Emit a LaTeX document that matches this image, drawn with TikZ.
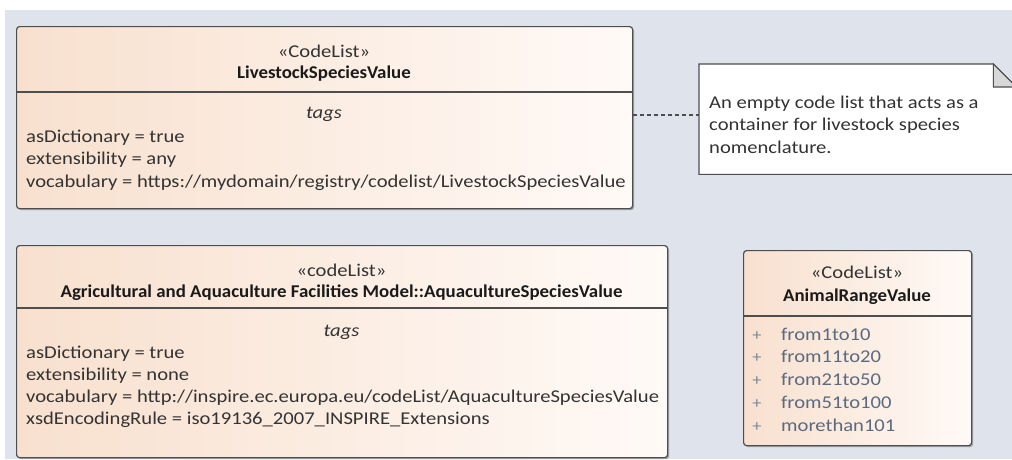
\documentclass[tikz,border=0pt]{standalone}
\usepackage{fontspec}
\usetikzlibrary{shadows}
\setmainfont{Carlito}
\newfontfamily\bodyfont{Carlito}[FakeStretch=1.145]
\newfontfamily\headfont{Carlito}[FakeStretch=1.05]
\definecolor{canvas}{HTML}{DFE3EC}
\definecolor{peach}{HTML}{F8E0CE}
\definecolor{peachlight}{HTML}{FFFAF7}
\definecolor{boxline}{HTML}{4E4E4E}
\definecolor{bodytext}{HTML}{333333}
\definecolor{titletext}{HTML}{1A1A1A}
\definecolor{itemtext}{HTML}{5A6A80}
\definecolor{notefold}{HTML}{D8D8D8}
\definecolor{shadowgray}{HTML}{9A9EA6}
\begin{document}
\begin{tikzpicture}[x=1pt,y=-1pt,
  classbox/.style={draw=boxline, line width=1.2pt, rounded corners=3pt,
    left color=peach, right color=peachlight, inner sep=0pt,
    anchor=north west,
    drop shadow={shadow xshift=1.5pt, shadow yshift=-1.5pt, fill=shadowgray, opacity=1}},
  divider/.style={draw=boxline, line width=1.2pt},
  stereo/.style={font=\bodyfont\fontsize{18}{22}\selectfont, text=bodytext, anchor=base, inner sep=0pt},
  cname/.style={font=\headfont\bfseries\fontsize{18}{22}\selectfont, text=titletext, anchor=base, inner sep=0pt},
  tagshead/.style={font=\bodyfont\itshape\fontsize{18}{22}\selectfont, text=bodytext, anchor=base, inner sep=0pt},
  tagline/.style={font=\bodyfont\fontsize{18}{22}\selectfont, text=bodytext, anchor=base west, inner sep=0pt},
  litmark/.style={font=\bodyfont\fontsize{16}{22}\selectfont, text=itemtext!80, anchor=base, inner sep=0pt},
  literal/.style={font=\bodyfont\fontsize{18}{22}\selectfont, text=itemtext, anchor=base west, inner sep=0pt},
  notetext/.style={font=\bodyfont\fontsize{18}{22}\selectfont, text=bodytext, anchor=base west, inner sep=0pt},
  noteline/.style={draw=boxline, line width=1.1pt, dash pattern=on 4pt off 3pt}]

% page and diagram canvas
\useasboundingbox (0,0) rectangle (1012,459);
\fill[white] (0,0) rectangle (1012,459);
\fill[canvas] (5,10) rectangle (1012,459);

% ---- LivestockSpeciesValue ----
\node[classbox, minimum width=616pt, minimum height=182pt] (live) at (16,26) {};
\draw[divider] (live.west |- 0,92) -- (live.east |- 0,92);
\node[stereo] (liveS) at (324,57) {«CodeList»};
\node[cname]  (liveN) at (324,78) {LivestockSpeciesValue};
\node[tagshead] (liveT) at (324,118) {tags};
\node[tagline] (liveA) at (26,142) {asDictionary = true};
\node[tagline] (liveB) at (26,164) {extensibility = any};
\node[tagline] (liveC) at (26,187) {vocabulary = https://mydomain/registry/codelist/LivestockSpeciesValue};

% ---- note ----
\node[inner sep=0pt, minimum width=317pt, minimum height=110pt, anchor=north west] (note) at (699,64) {};
\draw[draw=boxline, line width=1.1pt, fill=white]
  (note.north west) -- ([xshift=-23pt]note.north east) -- ([yshift=-23pt]note.north east)
  -- (note.south east) -- (note.south west) -- cycle;
\draw[draw=boxline, line width=1.1pt, fill=notefold]
  ([xshift=-23pt]note.north east) -- ([xshift=-23pt,yshift=-23pt]note.north east)
  -- ([yshift=-23pt]note.north east) -- cycle;
\node[notetext] (noteA) at (709,108) {An empty code list that acts as a};
\node[notetext] (noteB) at (709,130) {container for livestock species};
\node[notetext] (noteC) at (709,153) {nomenclature.};
\coordinate (noteAnchor) at (note.west |- 0,115);
\draw[noteline] (live.east |- noteAnchor) -- (noteAnchor);

% ---- AquacultureSpeciesValue ----
\node[classbox, minimum width=651pt, minimum height=212pt] (aqua) at (16,245) {};
\draw[divider] (aqua.west |- 0,308) -- (aqua.east |- 0,308);
\node[stereo] (aquaS) at (341.5,276) {«codeList»};
\node[cname]  (aquaN) at (341.5,297) {Agricultural and Aquaculture Facilities Model::AquacultureSpeciesValue};
\node[tagshead] (aquaT) at (341.5,336) {tags};
\node[tagline] (aquaA) at (26,358) {asDictionary = true};
\node[tagline] (aquaB) at (26,380) {extensibility = none};
\node[tagline] (aquaC) at (26,402) {vocabulary = http://inspire.ec.europa.eu/codeList/AquacultureSpeciesValue};
\node[tagline] (aquaD) at (26,424) {xsdEncodingRule = iso19136\_2007\_INSPIRE\_Extensions};

% ---- AnimalRangeValue ----
\node[classbox, minimum width=228pt, minimum height=195pt] (range) at (743,250) {};
\draw[divider] (range.west |- 0,316) -- (range.east |- 0,316);
\node[stereo] (rangeS) at (857,278) {«CodeList»};
\node[cname]  (rangeN) at (857,301) {AnimalRangeValue};
\node[litmark] (rangeP1) at (757,340) {+};
\node[litmark] (rangeP2) at (757,362) {+};
\node[litmark] (rangeP3) at (757,385) {+};
\node[litmark] (rangeP4) at (757,408) {+};
\node[litmark] (rangeP5) at (757,431) {+};
\node[literal] (rangeL1) at (781,340) {from1to10};
\node[literal] (rangeL2) at (781,362) {from11to20};
\node[literal] (rangeL3) at (781,385) {from21to50};
\node[literal] (rangeL4) at (781,408) {from51to100};
\node[literal] (rangeL5) at (781,431) {morethan101};
\end{tikzpicture}
\end{document}
